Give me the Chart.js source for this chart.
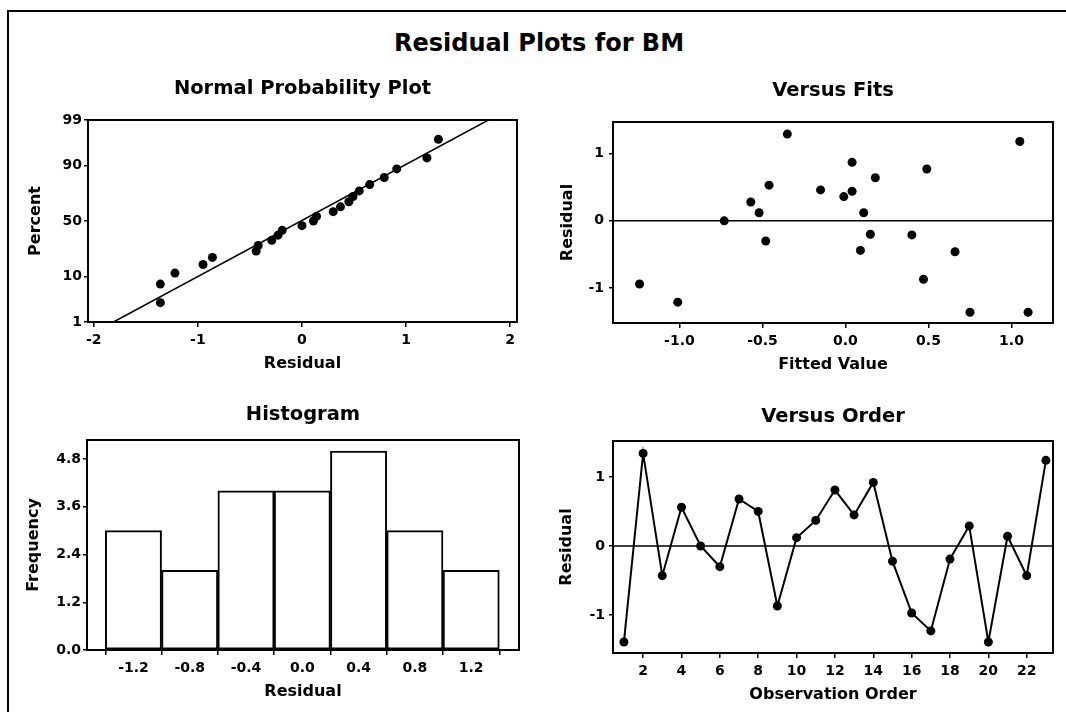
<!DOCTYPE html>
<html>
<head>
<meta charset="utf-8">
<title>Residual Plots for BM</title>
<script src="https://cdn.jsdelivr.net/npm/chart.js@4.4.1/dist/chart.umd.min.js"></script>
<style>
  body { margin: 0; background: #fff; width: 1066px; height: 712px; overflow: hidden; position: relative; font-family: "DejaVu Sans", sans-serif; }
  #frame { position: absolute; left: 7px; top: 10px; width: 1059px; height: 702px; border-top: 2px solid #000; border-left: 2px solid #000; box-sizing: border-box; }
  #mainTitle { position: absolute; left: 6px; width: 1066px; top: 29px; line-height: 28px; text-align: center; font-weight: bold; font-size: 24px; color: #000; }
  canvas { position: absolute; }
</style>
</head>
<body>
<div id="frame"></div>
<div id="mainTitle">Residual Plots for BM</div>
<canvas id="probChart"></canvas>
<canvas id="fitsChart"></canvas>
<canvas id="histChart"></canvas>
<canvas id="orderChart"></canvas>
<script>
// residuals in observation order (Versus Order panel)
const observationOrder = [1, 2, 3, 4, 5, 6, 7, 8, 9, 10, 11, 12, 13, 14, 15, 16, 17, 18, 19, 20, 21, 22, 23];
const residualsByOrder = [-1.39, 1.34, -0.43, 0.56, 0.00, -0.30, 0.68, 0.50, -0.87, 0.12, 0.37, 0.81, 0.45, 0.92, -0.22, -0.97, -1.23, -0.19, 0.29, -1.39, 0.14, -0.43, 1.24];

// Versus Fits panel
const fittedValues = [-1.24, -1.01, -0.73, -0.57, -0.52, -0.46, -0.48, -0.35, -0.15, -0.01, 0.04, 0.04, 0.11, 0.09, 0.15, 0.18, 0.40, 0.47, 0.49, 0.66, 0.75, 1.05, 1.10];
const fitsResiduals = [-0.94, -1.21, 0.00, 0.28, 0.12, 0.53, -0.30, 1.29, 0.46, 0.36, 0.44, 0.87, 0.12, -0.44, -0.20, 0.64, -0.21, -0.87, 0.77, -0.46, -1.36, 1.18, -1.36];

// Normal probability plot
const probResiduals = [-1.36, -1.36, -1.22, -0.95, -0.86, -0.44, -0.42, -0.29, -0.23, -0.19, 0.00, 0.11, 0.14, 0.30, 0.37, 0.45, 0.49, 0.55, 0.65, 0.79, 0.91, 1.20, 1.31];
const probPercents = [3.0, 7.3, 11.5, 15.8, 20.1, 24.4, 28.6, 32.9, 37.2, 41.5, 45.7, 50.0, 54.3, 58.5, 62.8, 67.1, 71.4, 75.6, 79.9, 84.2, 88.5, 92.7, 97.0];
const fitLineResiduals = [-1.81, 1.79];
const fitLinePercents = [1, 99];

// Histogram
const binCenters = [-1.2, -0.8, -0.4, 0.0, 0.4, 0.8, 1.2];
const binCounts = [3, 2, 4, 4, 5, 3, 2];

// tick labels
const percentTicks = [1, 10, 50, 90, 99];
const probResidualTicks = [-2, -1, 0, 1, 2];
const fitsTicks = ['-1.0', '-0.5', '0.0', '0.5', '1.0'];
const residualTicks = ['-1', '0', '1'];
const freqTicks = ['0.0', '1.2', '2.4', '3.6', '4.8'];
const histTicks = ['-1.2', '-0.8', '-0.4', '0.0', '0.4', '0.8', '1.2'];
const orderTicks = ['2', '4', '6', '8', '10', '12', '14', '16', '18', '20', '22'];

const FONT = '"DejaVu Sans", sans-serif';
Chart.defaults.font.family = FONT;
Chart.defaults.color = '#000';
Chart.defaults.animation = false;

// inverse of the standard normal CDF, for the probability axis
function probit(p) {
  const a = [-3.969683028665376e+01, 2.209460984245205e+02, -2.759285104469687e+02, 1.383577518672690e+02, -3.066479806614716e+01, 2.506628277459239e+00];
  const b = [-5.447609879822406e+01, 1.615858368580409e+02, -1.556989798598866e+02, 6.680131188771972e+01, -1.328068155288572e+01];
  const c = [-7.784894002430293e-03, -3.223964580411365e-01, -2.400758277161838e+00, -2.549732539343734e+00, 4.374664141464968e+00, 2.938163982698783e+00];
  const d = [7.784695709041462e-03, 3.224671290700398e-01, 2.445134137142996e+00, 3.754408661907416e+00];
  const plow = 0.02425;
  let q, r;
  if (p < plow) {
    q = Math.sqrt(-2 * Math.log(p));
    return (((((c[0] * q + c[1]) * q + c[2]) * q + c[3]) * q + c[4]) * q + c[5]) / ((((d[0] * q + d[1]) * q + d[2]) * q + d[3]) * q + 1);
  }
  if (p <= 1 - plow) {
    q = p - 0.5; r = q * q;
    return (((((a[0] * r + a[1]) * r + a[2]) * r + a[3]) * r + a[4]) * r + a[5]) * q / (((((b[0] * r + b[1]) * r + b[2]) * r + b[3]) * r + b[4]) * r + 1);
  }
  q = Math.sqrt(-2 * Math.log(1 - p));
  return -(((((c[0] * q + c[1]) * q + c[2]) * q + c[3]) * q + c[4]) * q + c[5]) / ((((d[0] * q + d[1]) * q + d[2]) * q + d[3]) * q + 1);
}

class ProbabilityScale extends Chart.LinearScale {
  buildTicks() {
    this.start = this.min;
    this.end = this.max;
    return percentTicks.map(v => ({ value: v }));
  }
  getPixelForValue(value) {
    const lo = probit(this.min / 100), hi = probit(this.max / 100);
    return this.getPixelForDecimal((probit(value / 100) - lo) / (hi - lo));
  }
  getValueForPixel(pixel) {
    let lo = this.min, hi = this.max;
    for (let i = 0; i < 40; i++) {
      const mid = (lo + hi) / 2;
      if (this.getPixelForValue(mid) > pixel) lo = mid; else hi = mid;
    }
    return (lo + hi) / 2;
  }
}
ProbabilityScale.id = 'probability';
ProbabilityScale.defaults = Chart.LinearScale.defaults;
Chart.register(ProbabilityScale);

// box around the plot area plus the zero reference line
const frameBox = {
  id: 'frameBox',
  afterDatasetsDraw(chart, args, opts) {
    const { ctx, chartArea: a } = chart;
    ctx.save();
    ctx.strokeStyle = '#000';
    if (opts.zeroLine) {
      const y = chart.scales.y.getPixelForValue(0);
      ctx.lineWidth = 1.5;
      ctx.beginPath();
      ctx.moveTo(a.left, y);
      ctx.lineTo(a.right, y);
      ctx.stroke();
    }
    ctx.lineWidth = 2;
    ctx.strokeRect(a.left, a.top, a.right - a.left, a.bottom - a.top);
    ctx.restore();
  }
};

function tickGrid() {
  return { display: true, drawOnChartArea: false, drawTicks: true, tickLength: 5, color: '#000', lineWidth: 1.5 };
}

function xAxis(min, max, values, labels, title, axisH, titleCenter, type) {
  return {
    type: type || 'linear',
    min: min,
    max: max,
    offset: false,
    afterBuildTicks: s => { s.ticks = values.map(v => ({ value: v })); },
    afterFit: s => { s.height = axisH; },
    grid: tickGrid(),
    border: { display: false },
    ticks: {
      padding: 5,
      maxRotation: 0,
      font: { size: 14, weight: 'bold' },
      callback: (v, i) => labels[i]
    },
    title: {
      display: true,
      text: title,
      font: { size: 16, weight: 'bold' },
      padding: { top: 0, bottom: axisH - titleCenter - 9.6 }
    }
  };
}

function yAxis(min, max, values, labels, title, axisW, titleCenter, tickPad, type) {
  return {
    type: type || 'linear',
    min: min,
    max: max,
    afterBuildTicks: s => { s.ticks = values.map(v => ({ value: v })); },
    afterFit: s => { s.width = axisW; },
    grid: Object.assign(tickGrid(), { tickLength: 4 }),
    border: { display: false },
    ticks: {
      padding: tickPad,
      font: { size: 14, weight: 'bold' },
      callback: (v, i) => labels[i]
    },
    title: {
      display: true,
      text: title,
      font: { size: 16, weight: 'bold' },
      padding: { top: titleCenter - 9.6, bottom: 0 }
    }
  };
}

// pos: canvas box on the page; plot: wanted plot area on the page
function makeChart(id, pos, plot, titleText, titleCenter, build) {
  const canvas = document.getElementById(id);
  canvas.width = pos.w;
  canvas.height = pos.h;
  canvas.style.left = pos.x + 'px';
  canvas.style.top = pos.y + 'px';
  const dims = {
    yW: plot.left - pos.x,
    xH: pos.y + pos.h - plot.bottom,
    right: pos.x + pos.w - plot.right
  };
  const titleBlock = plot.top - pos.y;
  const lineH = 19.5 * 1.2;
  const padTop = titleCenter - pos.y - lineH / 2;
  const cfg = build(dims);
  cfg.options = Object.assign({
    responsive: false,
    devicePixelRatio: 1,
    events: [],
    layout: { padding: { left: 0, top: 0, bottom: 0, right: dims.right } },
    plugins: {
      legend: { display: false },
      tooltip: { enabled: false },
      title: {
        display: true,
        fullSize: false,
        text: titleText,
        font: { size: 19.5, weight: 'bold' },
        padding: { top: padTop, bottom: titleBlock - lineH - padTop }
      },
      frameBox: { zeroLine: cfg.zeroLine }
    }
  }, cfg.options);
  cfg.plugins = [frameBox];
  return new Chart(canvas, cfg);
}

const dotStyle = {
  showLine: false,
  pointRadius: 4.5,
  pointBackgroundColor: '#000',
  pointBorderColor: '#000',
  pointBorderWidth: 0
};

// Normal Probability Plot
makeChart('probChart', { x: 10, y: 70, w: 520, h: 315 }, { left: 88, right: 517, top: 120, bottom: 322 },
  'Normal Probability Plot', 89, d => ({
    type: 'scatter',
    data: {
      datasets: [
        Object.assign({ data: probResiduals.map((r, i) => ({ x: r, y: probPercents[i] })), order: 1 }, dotStyle),
        {
          data: fitLineResiduals.map((r, i) => ({ x: r, y: fitLinePercents[i] })),
          showLine: true, pointRadius: 0, borderColor: '#000', borderWidth: 1.5, order: 2
        }
      ]
    },
    options: {
      scales: {
        x: xAxis(-2.055, 2.065, probResidualTicks, probResidualTicks.map(String), 'Residual', d.xH, 42),
        y: yAxis(1, 99, percentTicks, percentTicks.map(String), 'Percent', d.yW, 25.5, 2, 'probability')
      }
    }
  }));

// Versus Fits
makeChart('fitsChart', { x: 540, y: 70, w: 526, h: 315 }, { left: 613, right: 1053, top: 122, bottom: 323 },
  'Versus Fits', 91, d => ({
    type: 'scatter',
    zeroLine: true,
    data: {
      datasets: [Object.assign({ data: fittedValues.map((f, i) => ({ x: f, y: fitsResiduals[i] })) }, dotStyle)]
    },
    options: {
      scales: {
        x: xAxis(-1.40, 1.25, fitsTicks.map(Number), fitsTicks, 'Fitted Value', d.xH, 42),
        y: yAxis(-1.52, 1.47, residualTicks.map(Number), residualTicks, 'Residual', d.yW, 27.6, 5)
      }
    }
  }));

// Histogram
makeChart('histChart', { x: 10, y: 390, w: 520, h: 322 }, { left: 87, right: 519, top: 440, bottom: 650 },
  'Histogram', 415, d => ({
    type: 'bar',
    data: {
      datasets: [{
        data: binCenters.map((c, i) => ({ x: c, y: binCounts[i] })),
        backgroundColor: '#fff',
        borderColor: '#000',
        borderWidth: 2,
        borderSkipped: false,
        barPercentage: 1,
        categoryPercentage: 1
      }]
    },
    options: {
      scales: {
        x: xAxis(-1.53, 1.54, histTicks.map(Number), histTicks, 'Residual', d.xH, 42),
        y: yAxis(0, 5.28, freqTicks.map(Number), freqTicks, 'Frequency', d.yW, 24, 2)
      }
    }
  }));

// Versus Order
makeChart('orderChart', { x: 540, y: 390, w: 526, h: 322 }, { left: 613, right: 1053, top: 441, bottom: 653 },
  'Versus Order', 417, d => ({
    type: 'scatter',
    zeroLine: true,
    data: {
      datasets: [Object.assign({}, dotStyle, {
        data: observationOrder.map((o, i) => ({ x: o, y: residualsByOrder[i] })),
        showLine: true,
        borderColor: '#000',
        borderWidth: 2
      })]
    },
    options: {
      scales: {
        x: xAxis(0.43, 23.37, orderTicks.map(Number), orderTicks, 'Observation Order', d.xH, 42),
        y: yAxis(-1.55, 1.52, residualTicks.map(Number), residualTicks, 'Residual', d.yW, 26.5, 4)
      }
    }
  }));
</script>
</body>
</html>
